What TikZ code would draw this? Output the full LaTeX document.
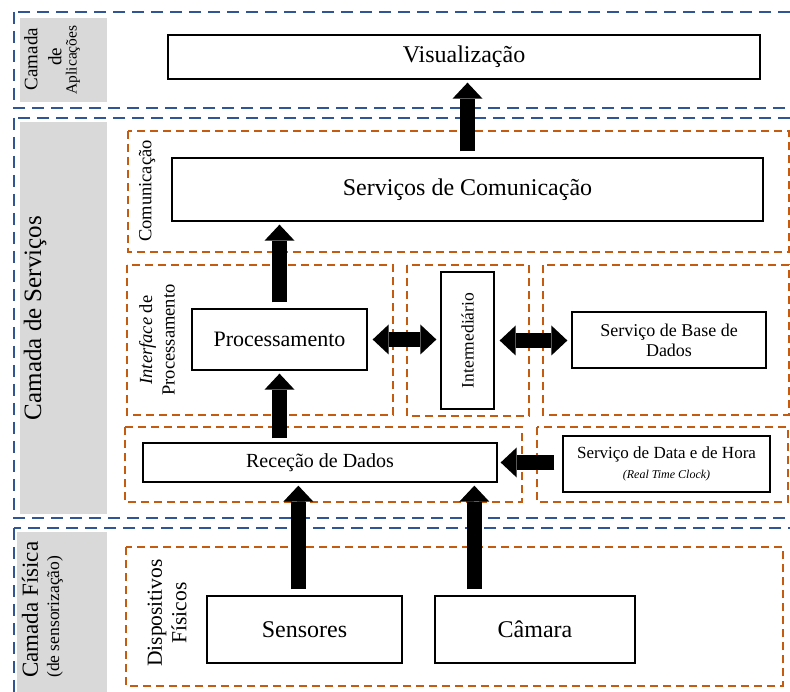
\documentclass[tikz,border=0pt]{standalone}
\usepackage{fontspec}
\setmainfont{Liberation Serif}
\usetikzlibrary{arrows.meta}
\definecolor{lblue}{HTML}{2F5597}
\definecolor{lorange}{HTML}{C55A11}
\definecolor{lgray}{HTML}{D9D9D9}
\newcommand{\fs}[1]{\fontsize{#1}{#1}\selectfont}
\begin{document}
\begin{tikzpicture}[x=1pt,y=-1pt,
  layer/.style={draw=lblue, line width=2pt, dash pattern=on 12pt off 7pt},
  grp/.style={draw=lorange, line width=1.3pt, dash pattern=on 8pt off 5pt},
  lab/.style={fill=lgray, draw=none},
  box/.style={draw=black, line width=1.3pt, fill=white, inner sep=2pt, align=center},
  rlab/.style={rotate=90, inner sep=0pt, align=center},
  blk/.style={line width=15pt, -{Triangle[length=16pt,width=30pt,line width=0pt]}},
  blk2/.style={line width=15pt, {Triangle[length=16pt,width=30pt,line width=0pt]}-{Triangle[length=16pt,width=30pt,line width=0pt]}}]
\useasboundingbox (0,0) rectangle (790,692);
\clip (0,0) rectangle (790,692);
\fill[white] (0,0) rectangle (790,692);
% layers
\draw[layer] (14,12) rectangle (800,108);
\draw[layer] (14,118) rectangle (800,518);
\draw[layer] (14,528) rectangle (800,705);
% gray label panels
\fill[lab] (20,18) rectangle (107,102);
\fill[lab] (20,122) rectangle (107,514);
\fill[lab] (17,532) rectangle (107,692);
% group frames
\draw[grp] (128,131) rectangle (789,252);
\draw[grp] (127,265) rectangle (393,415);
\draw[grp] (407,265) rectangle (529,416);
\draw[grp] (543,265) rectangle (789,415);
\draw[grp] (125,427) rectangle (522,502);
\draw[grp] (537,427) rectangle (788,502);
\draw[grp] (126,547) rectangle (783,686);
% layer labels
\node[rlab, font=\fs{19}] (la1) at (31,59) {Camada};
\node[rlab, font=\fs{19}] (la2) at (55,57) {de};
\node[rlab, font=\fs{15.5}] (la3) at (73,60) {Aplicações};
\node[rlab, font=\fs{25}] (ls) at (35,318) {Camada de Serviços};
\node[rlab, font=\fs{23}, anchor=west] (lp1) at (30,678) {Camada Física};
\node[rlab, font=\fs{17.5}, anchor=west] (lp2) at (55,678) {(de sensorização)};
% group labels
\node[rlab, font=\fs{18.5}] (gcom) at (147,191) {Comunicação};
\node[rlab, font=\fs{18.5}] (gif) at (157,340) {\textit{Interface} de\\[4pt]Processamento};
\node[rlab, font=\fs{21.5}] (gdisp) at (167,613) {Dispositivos\\[3pt]Físicos};
% boxes
\node[box, minimum width=592pt, minimum height=44pt, font=\fs{24}] (vis) at (464,57) {Visualização};
\node[box, minimum width=591pt, minimum height=63pt, font=\fs{24}] (com) at (467.5,189.5) {Serviços de Comunicação};
\node[box, minimum width=175pt, minimum height=61pt, font=\fs{22}] (proc) at (279.5,339.5) {Processamento};
\node[box, minimum width=53pt, minimum height=137pt] (interm) at (467.5,340.5) {};
\node[rlab, font=\fs{17.5}] (intermt) at (interm.center) {Intermediário};
\node[box, minimum width=194pt, minimum height=56pt, font=\fs{18}] (bd) at (669,340) {Serviço de Base de\\[2pt]Dados};
\node[box, minimum width=354pt, minimum height=39pt, font=\fs{20}] (rec) at (320,462.5) {Receção de Dados};
\node[box, minimum width=207pt, minimum height=56pt, font=\fs{17}] (dh) at (666.5,464) {Serviço de Data e de Hora\\[3pt]{\fs{12}\itshape (Real Time Clock)}};
\node[box, minimum width=195pt, minimum height=67pt, font=\fs{24}] (sens) at (304.5,629.5) {Sensores};
\node[box, minimum width=200pt, minimum height=67pt, font=\fs{24}] (cam) at (535,629.5) {Câmara};
% arrows
\draw[blk] ([yshift=6pt]com.north) -- ([yshift=-3pt]com.north |- vis.south);
\draw[blk] ([yshift=6pt]proc.north) -- ([yshift=-3pt]proc.north |- com.south);
\draw[blk] ([yshift=4pt]proc.south |- rec.north) -- ([yshift=-3pt]proc.south);
\draw[blk2] ([xshift=5pt]proc.east) -- ([xshift=-4pt]interm.west |- proc.east);
\draw[blk2] ([xshift=5pt]interm.east) -- ([xshift=-4pt]bd.west |- interm.east);
\draw[blk] ([xshift=-8pt]dh.west |- rec.east) -- ([xshift=3pt]rec.east);
\draw[blk] ([xshift=92pt,yshift=6pt]sens.north west) -- ([xshift=92pt,yshift=-3pt]sens.north west |- rec.south);
\draw[blk] ([xshift=40pt,yshift=6pt]cam.north west) -- ([xshift=40pt,yshift=-3pt]cam.north west |- rec.south);
\end{tikzpicture}
\end{document}
